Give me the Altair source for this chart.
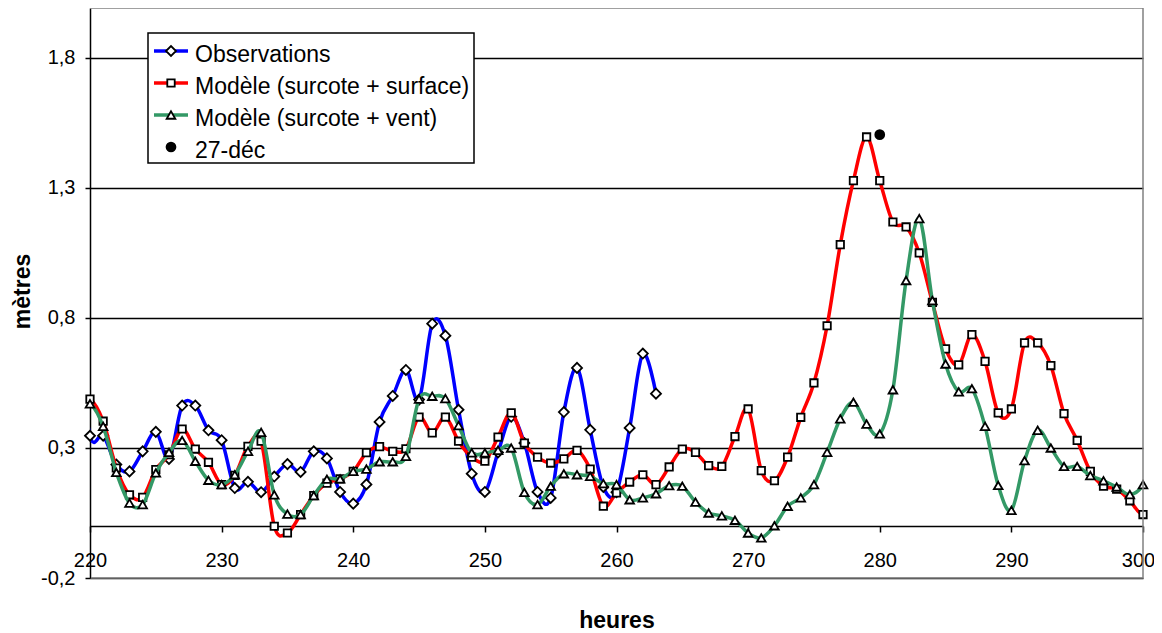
import altair as alt
import pandas as pd

FONT = "Liberation Sans"

# ---------------- data ----------------
obs_hours = list(range(219, 264))
obs_values = [0.75,
              0.347, 0.347, 0.236, 0.21, 0.287, 0.362, 0.258, 0.463, 0.463, 0.368,
              0.33, 0.146, 0.17, 0.13, 0.19, 0.238, 0.208, 0.287, 0.26, 0.131,
              0.086, 0.16, 0.40, 0.50, 0.60, 0.486, 0.778, 0.732, 0.447, 0.201,
              0.131, 0.283, 0.42, 0.319, 0.131, 0.108, 0.438, 0.608, 0.37, 0.15,
              0.13, 0.377, 0.663, 0.509]

model_hours = list(range(219, 302))
surface_values = [0.47,
                  0.488, 0.403, 0.223, 0.12, 0.11, 0.217, 0.274, 0.373, 0.296, 0.245,
                  0.159, 0.195, 0.306, 0.326, -0.001, -0.027, 0.044, 0.117, 0.165, 0.181,
                  0.21, 0.282, 0.305, 0.287, 0.297, 0.419, 0.358, 0.419, 0.326, 0.265,
                  0.249, 0.342, 0.435, 0.319, 0.265, 0.242, 0.258, 0.291, 0.219, 0.076,
                  0.127, 0.169, 0.197, 0.159, 0.227, 0.296, 0.283, 0.232, 0.229, 0.344,
                  0.45, 0.213, 0.174, 0.265, 0.418, 0.55, 0.77, 1.082, 1.328, 1.496,
                  1.328, 1.169, 1.15, 1.05, 0.86, 0.681, 0.62, 0.736, 0.633, 0.435,
                  0.45, 0.704, 0.704, 0.617, 0.432, 0.329, 0.21, 0.153, 0.142, 0.097,
                  0.044, 0.1]
wind_values = [0.45,
               0.47, 0.383, 0.206, 0.088, 0.082, 0.204, 0.283, 0.329, 0.249, 0.176,
               0.159, 0.197, 0.287, 0.36, 0.12, 0.046, 0.044, 0.117, 0.18, 0.181,
               0.21, 0.219, 0.247, 0.247, 0.268, 0.488, 0.499, 0.49, 0.386, 0.281,
               0.281, 0.291, 0.3, 0.129, 0.082, 0.153, 0.201, 0.197, 0.191, 0.163,
               0.159, 0.101, 0.108, 0.124, 0.155, 0.153, 0.092, 0.05, 0.039, 0.022,
               -0.027, -0.046, 0.001, 0.076, 0.108, 0.159, 0.283, 0.412, 0.476, 0.392,
               0.354, 0.524, 0.944, 1.182, 0.867, 0.623, 0.516, 0.528, 0.383, 0.156,
               0.06, 0.251, 0.368, 0.3, 0.229, 0.229, 0.194, 0.174, 0.15, 0.121,
               0.159, 0.30]

dec27_hour = [280]
dec27_value = [1.505]

y_ticks = [-0.2, 0.3, 0.8, 1.3, 1.8]
x_ticks = list(range(220, 301, 10))
legend_labels = ["Observations", "Modèle (surcote + surface)",
                 "Modèle (surcote + vent)", "27-déc"]

# ---------------- layout ----------------
W, H = 1053, 570
X_DOMAIN = [220, 300]
Y_DOMAIN = [-0.2, 1.992]
X_AXIS_OFFSET = -H * (0 - Y_DOMAIN[0]) / (Y_DOMAIN[1] - Y_DOMAIN[0])

BLUE, RED, GREEN = "#0000FF", "#FF0000", "#339966"
LINE_W = 3.5
MK_STROKE = 1.8

obs_df = pd.DataFrame({"h": obs_hours, "v": obs_values})
surf_df = pd.DataFrame({"h": model_hours, "v": surface_values})
wind_df = pd.DataFrame({"h": model_hours, "v": wind_values})
dot_df = pd.DataFrame({"h": dec27_hour, "v": dec27_value})

x_enc = alt.X(
    "h:Q",
    scale=alt.Scale(domain=X_DOMAIN, nice=False, zero=False),
    axis=alt.Axis(
        values=x_ticks, format="d", offset=X_AXIS_OFFSET,
        tickSize=6, tickColor="black", tickWidth=1.5,
        domainColor="black", domainWidth=1.5,
        labelFontSize=20, labelColor="black", labelPadding=19,
        labelOffset={"condition": {"test": "datum.value >= 300", "value": -5}, "value": 0},
        labelFlush=False, labelOverlap=False, grid=False,
        title="heures", titleFontSize=23, titleFontWeight="bold",
        titleColor="black", titleX=W / 2, titleY=102,
        titleBaseline="alphabetic", titleAlign="center",
    ),
)
y_enc = alt.Y(
    "v:Q",
    scale=alt.Scale(domain=Y_DOMAIN, nice=False, zero=False),
    axis=alt.Axis(
        values=y_ticks,
        labelExpr="replace(replace(format(datum.value, '.1f'), '.', ','), '\u2212', '-')",
        tickSize=5, tickColor="black", tickWidth=1.5,
        domainColor="black", domainWidth=1.5,
        grid=True, gridColor="black", gridWidth=1.5,
        labelFontSize=20, labelColor="black", labelPadding=10,
        title="mètres", titleFontSize=23, titleFontWeight="bold",
        titleColor="black", titleAngle=270, titleX=-61, titleY=283,
        titleBaseline="alphabetic", titleAlign="center",
    ),
)

marker_filter = "datum.h >= 220 && datum.h <= 300"


def series_layers(df, color, shape, size):
    line = alt.Chart(df).mark_line(
        interpolate="cardinal", strokeWidth=LINE_W, color=color, clip=True,
        strokeJoin="round", strokeCap="round",
    ).encode(x=x_enc, y=y_enc)
    pts = alt.Chart(df).transform_filter(marker_filter).mark_point(
        shape=shape, size=size, filled=True, fill="white", stroke="black",
        strokeWidth=MK_STROKE, opacity=1,
    ).encode(x=x_enc, y=y_enc)
    return [line, pts]


SIZES = {"diamond": 100, "square": 55, "triangle-up": 75, "circle": 115}

layers = []
layers += series_layers(obs_df, BLUE, "diamond", SIZES["diamond"])
layers += series_layers(surf_df, RED, "square", SIZES["square"])
layers += series_layers(wind_df, GREEN, "triangle-up", SIZES["triangle-up"])
layers.append(
    alt.Chart(dot_df).mark_point(shape="circle", size=SIZES["circle"], filled=True,
                                 color="black", opacity=1)
    .encode(x=x_enc, y=y_enc)
)

one = alt.Data(values=[{"k": 0}])
BORDER = "#808080"
# plot-area border (top, right, bottom) in grey
layers.append(alt.Chart(one).mark_rule(color=BORDER, strokeWidth=1.5).encode(
    x=alt.value(0), x2=alt.value(W), y=alt.value(0)))
layers.append(alt.Chart(one).mark_rule(color=BORDER, strokeWidth=1.5).encode(
    x=alt.value(W), y=alt.value(0), y2=alt.value(H)))
layers.append(alt.Chart(one).mark_rule(color=BORDER, strokeWidth=1.5).encode(
    x=alt.value(1), x2=alt.value(W), y=alt.value(H)))

# legend
layers.append(alt.Chart(one).mark_rect(fill="white", stroke="black", strokeWidth=1.5).encode(
    x=alt.value(58), x2=alt.value(384), y=alt.value(25), y2=alt.value(155)))

legend_rows = [43, 75, 107, 139]
legend_styles = [(BLUE, "diamond"), (RED, "square"),
                 (GREEN, "triangle-up"), (None, "circle")]
for label, ry, (col, shp) in zip(legend_labels, legend_rows, legend_styles):
    if col is not None:
        layers.append(alt.Chart(one).mark_rule(color=col, strokeWidth=LINE_W).encode(
            x=alt.value(64), x2=alt.value(98), y=alt.value(ry)))
        layers.append(alt.Chart(one).mark_point(
            shape=shp, size=SIZES[shp], filled=True, fill="white", stroke="black",
            strokeWidth=MK_STROKE, opacity=1).encode(x=alt.value(81), y=alt.value(ry)))
    else:
        layers.append(alt.Chart(one).mark_point(
            shape=shp, size=SIZES[shp], filled=True, color="black", opacity=1
        ).encode(x=alt.value(81), y=alt.value(ry)))
    layers.append(alt.Chart(one).mark_text(
        align="left", baseline="alphabetic", fontSize=23, font=FONT, color="black"
    ).encode(x=alt.value(105), y=alt.value(ry + 11), text=alt.value(label)))

chart = alt.layer(*layers).properties(
    width=W, height=H,
    autosize=alt.AutoSizeParams(type="none"),
    padding={"left": 82, "top": 0, "right": 11, "bottom": 55},
    background="white",
).configure_view(
    stroke=None
).configure_axis(
    labelFont=FONT, titleFont=FONT
).configure_text(font=FONT)

chart.save("out.html", embed_options={"renderer": "svg", "actions": False})
